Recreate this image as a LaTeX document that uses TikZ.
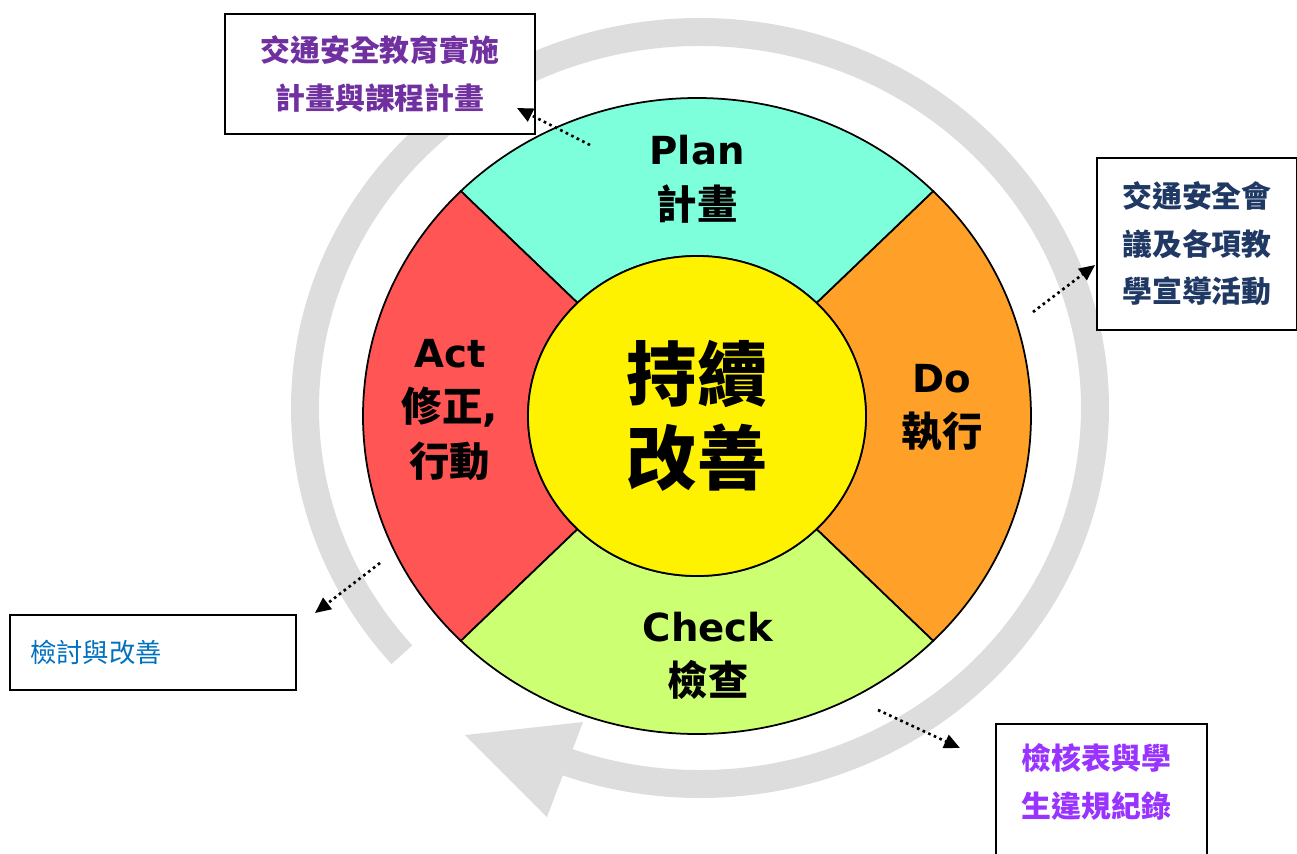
\documentclass[tikz,border=0pt]{standalone}
\usepackage{fontspec}
\setmainfont{Noto Sans CJK TC}
\newfontfamily\latinfont{DejaVu Sans}
\usetikzlibrary{arrows.meta}
\definecolor{plancol}{RGB}{125,255,220}
\definecolor{docol}{RGB}{255,160,40}
\definecolor{actcol}{RGB}{255,85,85}
\definecolor{checkcol}{RGB}{205,255,115}
\definecolor{ringgray}{RGB}{221,221,221}
\definecolor{planink}{RGB}{112,48,160}
\definecolor{doink}{RGB}{31,56,100}
\definecolor{actink}{RGB}{0,112,192}
\definecolor{checkink}{RGB}{153,51,255}

\begin{document}
\begin{tikzpicture}[
            x = 0.02cm, y = 0.02cm,
            box/.style = {draw, line width = 1pt, fill = white, inner sep = 0pt},
            boxtext/.style = {font = \fontsize{17}{27}\selectfont\bfseries, align = center},
            seglabel/.style = {font = \fontsize{23}{31}\selectfont\bfseries, align = center},
            note/.style = {dotted, line width = 1.5pt, -{Triangle[length = 9pt, width = 8pt]}}
        ]
        \useasboundingbox (-697,-437) rectangle (600,416);
        \clip (-697,-437) rectangle (600,416);
        % grey cycle arrow
        \draw[ringgray, line width = 0.56cm] (3,8) ++(221:395 and 376)
            arc[start angle = 221, end angle = -111, x radius = 395, y radius = 376];
        \fill[ringgray] (-232,-319) -- (-114,-306) -- (-150,-401) -- cycle;
        % four quarters
        \foreach \a/\col in {-45/docol, 45/plancol, 135/actcol, 225/checkcol}
            \draw[fill = \col, line width = 1pt] (\a:334 and 318)
                arc[start angle = \a, delta angle = 90, x radius = 334, y radius = 318]
                -- ({\a+90}:169 and 160)
                arc[start angle = {\a+90}, delta angle = -90, x radius = 169, y radius = 160]
                -- cycle;
        \draw[fill = yellow, line width = 1pt] (0,0) ellipse [x radius = 169, y radius = 160];
        \node[font = \fontsize{40}{48}\selectfont\bfseries, align = center] (core) at (0,0) {持續\\改善};
        \node[seglabel] (plan) at (0,237) {{\latinfont\fontsize{22}{31}\selectfont Plan}\\計畫};
        \node[seglabel] (do) at (245,8) {{\latinfont\fontsize{22}{31}\selectfont Do}\\執行};
        \node[seglabel] (act) at (-247,6) {{\latinfont\fontsize{22}{31}\selectfont Act}\\修正{\latinfont ,}\\行動};
        \node[seglabel] (check) at (11,-240) {{\latinfont\fontsize{22}{31}\selectfont Check}\\檢查};
        % notes
        \node[box, boxtext, text = planink, minimum width = 6.2cm, minimum height = 2.4cm] (planbox) at (-317,342)
            {交通安全教育實施\\計畫與課程計畫};
        \node[box, boxtext, text = doink, minimum width = 4cm, minimum height = 3.44cm] (dobox) at (500,172)
            {交通安全會\\議及各項教\\學宣導活動};
        \node[box, text = actink, font = \fontsize{15}{18}\selectfont, align = left, inner xsep = 0.4cm,
            text width = 4.92cm, minimum height = 1.5cm] (actbox) at (-544,-236.5) {檢討與改善};
        \node[box, anchor = north, minimum width = 4.22cm, minimum height = 3.6cm] (checkbox) at (404.5,-307) {};
        \node[boxtext, text = checkink] (checktext) at (399.5,-366) {檢核表與學\\生違規紀錄};
        % dotted pointers
        \coordinate (pfrom) at (-107,271);
        \coordinate (pto) at (-180,308);
        \coordinate (dfrom) at (336,104);
        \coordinate (dto) at (398,151);
        \coordinate (afrom) at (-317,-147);
        \coordinate (ato) at (-382,-197);
        \coordinate (cfrom) at (181,-294);
        \coordinate (cto) at (263,-332);
        \draw[note] (pfrom) -- (pto);
        \draw[note] (dfrom) -- (dto);
        \draw[note] (afrom) -- (ato);
        \draw[note] (cfrom) -- (cto);
    \end{tikzpicture}
\end{document}
